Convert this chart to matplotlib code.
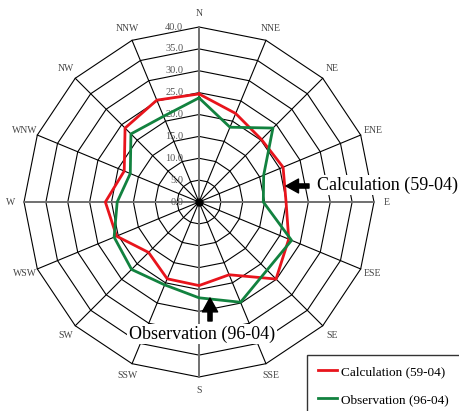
import numpy as np
import matplotlib
matplotlib.use("Agg")
import matplotlib.pyplot as plt

directions = ['N', 'NNE', 'NE', 'ENE', 'E', 'ESE', 'SE', 'SSE',
              'S', 'SSW', 'SW', 'WSW', 'W', 'WNW', 'NW', 'NNW']
calc = [24.7, 21.9, 20.2, 20.8, 19.9, 22.2, 24.9, 18.0,
        19.1, 19.0, 16.3, 20.4, 21.4, 18.5, 23.9, 25.2]
obs = [23.8, 18.5, 23.9, 16.0, 14.7, 22.9, 22.0, 24.8,
       21.9, 20.5, 21.8, 21.0, 18.7, 17.0, 22.0, 21.2]
rings = [5, 10, 15, 20, 25, 30, 35, 40]
ring_labels = ['5.0', '10.0', '15.0', '20.0', '25.0', '30.0', '35.0', '40.0']

serif = 'Liberation Serif'
W, H = 460, 411
cx, cy, ppu = 199, 202, 175 / 40.0  # centre in pixels, pixels per unit

fig = plt.figure(figsize=(W / 100, H / 100), dpi=100)
ax = fig.add_axes([0, 0, 1, 1])
ax.set_xlim(-cx / ppu, (W - cx) / ppu)
ax.set_ylim(-(H - cy) / ppu, cy / ppu)
ax.axis('off')

theta = np.arange(len(directions)) * 2 * np.pi / len(directions)
tc = np.append(theta, theta[0])

def xy(r, t):
    r = np.asarray(r)
    return r * np.sin(t), r * np.cos(t)

# polygon rings
for r in rings:
    x, y = xy(np.full(len(tc), r), tc)
    ax.plot(x, y, color='black', lw=0.8, zorder=1)

# spokes
for i, t in enumerate(theta):
    if i % 4 == 0:
        continue
    x, y = xy(np.array([0, 40]), t)
    ax.plot(x, y, color='black', lw=0.8, zorder=1)
ax.plot([-40, 40], [0, 0], color='#707070', lw=1.4, zorder=1)
ax.plot([0, 0], [-40, 40], color='#707070', lw=1.4, zorder=1)
ax.plot([0], [0], 'o', color='black', ms=5, zorder=2)

# radial labels
ax.text(-3.6, 0, '0.0', ha='right', va='center', fontsize=7.5,
        family=serif, color='#555555', zorder=3)
for r, lab in zip(rings, ring_labels):
    ax.text(-3.6, r, lab, ha='right', va='center', fontsize=7.5,
            family=serif, color='#555555', zorder=3)

# direction labels
for d, t in zip(directions, theta):
    x, y = xy(43, t)
    ax.text(x, y, d, ha='center', va='center', fontsize=7,
            family=serif, color='#444444')

# data
x, y = xy(np.append(calc, calc[0]), tc)
ax.plot(x, y, color='#e8141c', lw=2, zorder=4, label='Calculation (59-04)')
x, y = xy(np.append(obs, obs[0]), tc)
ax.plot(x, y, color='#12823f', lw=2, zorder=4, label='Observation (96-04)')

# annotations
box = dict(facecolor='white', edgecolor='none', pad=1)
ax.text((317 - cx) / ppu, (cy - 185) / ppu, 'Calculation (59-04)', ha='left',
        va='center', fontsize=13, family=serif, bbox=box, zorder=5)
ax.annotate('', xy=((286 - cx) / ppu, (cy - 186) / ppu),
            xytext=((309 - cx) / ppu, (cy - 186) / ppu),
            arrowprops=dict(facecolor='black', edgecolor='black', width=3,
                            headwidth=10, headlength=9), zorder=6)
ax.text((202 - cx) / ppu, (cy - 334) / ppu, 'Observation (96-04)', ha='center',
        va='center', fontsize=13, family=serif, bbox=box, zorder=5)
ax.annotate('', xy=((210 - cx) / ppu, (cy - 298) / ppu),
            xytext=((210 - cx) / ppu, (cy - 321) / ppu),
            arrowprops=dict(facecolor='black', edgecolor='black', width=3,
                            headwidth=11, headlength=10), zorder=6)

# legend box runs off the right and bottom edges like the original
leg = fig.legend(loc='upper left', mode='expand',
                 bbox_to_anchor=(307 / W, 1 - 355 / H, 160 / W, 0.0),
                 prop={'family': serif, 'size': 9.5}, frameon=True,
                 fancybox=False, borderpad=0.8, handlelength=1.5,
                 handletextpad=0.3, labelspacing=1.2, borderaxespad=0)
leg.get_frame().set_edgecolor('black')
leg.get_frame().set_linewidth(1.0)

fig.savefig('out.png', dpi=100)
